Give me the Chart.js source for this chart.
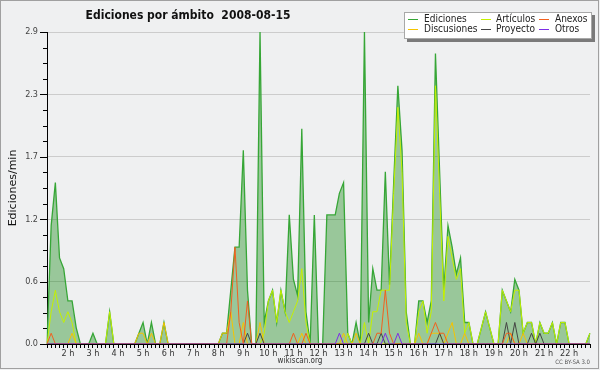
<!DOCTYPE html>
<html>
<head>
<meta charset="utf-8">
<script src="https://cdn.jsdelivr.net/npm/chart.js@4.4.1/dist/chart.umd.min.js"></script>
<style>
  html, body { margin: 0; padding: 0; background: #eff0f1; }
  #wrap { width: 600px; height: 370px; }
</style>
</head>
<body>
<div id="wrap"><canvas id="chart" width="600" height="370"></canvas></div>
<script>
const FONT = '"DejaVu Sans Condensed", "Liberation Sans", sans-serif';

const TITLE = "Ediciones por ámbito  2008-08-15";
const Y_TITLE = "Ediciones/min";
const SOURCE = "wikiscan.org";
const LICENCE = "CC BY-SA 3.0";

// one point every 10 minutes, hour labels every 6 points
const POINT_COUNT = 131;
const HOUR_LABELS = ["2 h", "3 h", "4 h", "5 h", "6 h", "7 h", "8 h", "9 h", "10 h", "11 h", "12 h",
  "13 h", "14 h", "15 h", "16 h", "17 h", "18 h", "19 h", "20 h", "21 h", "22 h"];
const FIRST_HOUR_INDEX = 5;
const POINTS_PER_HOUR = 6;

const Y_MAX = 2.9;
const Y_MAJOR = [0, 0.58, 1.16, 1.74, 2.32, 2.9];
const Y_MINOR = [0.145, 0.29, 0.435, 0.725, 0.87, 1.015, 1.305, 1.45, 1.595, 1.885, 2.03, 2.175, 2.465, 2.61, 2.755];

const EDICIONES = [
  0, 1.1, 1.5, 0.8, 0.7, 0.4, 0.4, 0.15, 0, 0,
  0, 0.1, 0, 0, 0, 0.3, 0, 0, 0, 0,
  0, 0, 0.1, 0.2, 0, 0.2, 0, 0, 0.2, 0,
  0, 0, 0, 0, 0, 0, 0, 0, 0, 0,
  0, 0, 0.1, 0.1, 0.5, 0.9, 0.9, 1.8, 0.5, 0,
  0, 2.9, 0.2, 0.4, 0.5, 0.2, 0.5, 0.3, 1.2, 0.6,
  0.45, 2.0, 0.3, 0, 1.2, 0, 0, 1.2, 1.2, 1.2,
  1.4, 1.5, 0.1, 0, 0.2, 0, 2.9, 0.2, 0.7, 0.5,
  0.5, 1.6, 0.55, 1.5, 2.4, 1.8, 0.3, 0, 0, 0.4,
  0.4, 0.2, 0.4, 2.7, 1.6, 0.5, 1.1, 0.9, 0.65, 0.8,
  0.2, 0.2, 0, 0, 0.15, 0.3, 0.15, 0, 0, 0.5,
  0.4, 0.3, 0.6, 0.5, 0.1, 0.2, 0.2, 0, 0.2, 0.1,
  0.1, 0.2, 0, 0.2, 0.2, 0, 0, 0, 0, 0,
  0.1
];
const ARTICULOS = [
  0, 0.3, 0.5, 0.3, 0.2, 0.3, 0.2, 0, 0, 0,
  0, 0, 0, 0, 0, 0.3, 0, 0, 0, 0,
  0, 0, 0, 0, 0, 0, 0, 0, 0, 0,
  0, 0, 0, 0, 0, 0, 0, 0, 0, 0,
  0, 0, 0, 0, 0, 0, 0, 0, 0, 0,
  0, 0, 0.1, 0.4, 0.5, 0.2, 0.5, 0.3, 0.2, 0.3,
  0.4, 0.7, 0.2, 0, 0, 0, 0, 0, 0, 0,
  0, 0, 0.1, 0, 0, 0, 0.2, 0, 0.3, 0.3,
  0.5, 0.5, 0.5, 1.4, 2.2, 1.6, 0.2, 0, 0, 0.3,
  0.4, 0.1, 0.3, 2.4, 1.4, 0.4, 1.0, 0.8, 0.6, 0.7,
  0.1, 0.2, 0, 0, 0.15, 0.3, 0.15, 0, 0, 0.5,
  0.4, 0.3, 0.5, 0.5, 0.1, 0.2, 0.2, 0, 0.2, 0.1,
  0.1, 0.2, 0, 0.2, 0.2, 0, 0, 0, 0, 0,
  0.1
];
const ANEXOS = [
  0, 0.1, 0, 0, 0, 0, 0, 0, 0, 0,
  0, 0, 0, 0, 0, 0, 0, 0, 0, 0,
  0, 0, 0, 0, 0, 0, 0, 0, 0, 0,
  0, 0, 0, 0, 0, 0, 0, 0, 0, 0,
  0, 0, 0, 0, 0.3, 0.9, 0.2, 0, 0.4, 0,
  0, 0, 0, 0, 0, 0, 0, 0, 0, 0.1,
  0, 0, 0.1, 0, 0, 0, 0, 0, 0, 0,
  0, 0, 0, 0, 0, 0, 0, 0, 0, 0.1,
  0.1, 0.5, 0.1, 0, 0, 0, 0, 0, 0, 0,
  0, 0, 0.1, 0.2, 0.1, 0.1, 0, 0, 0, 0,
  0, 0, 0, 0, 0, 0, 0, 0, 0, 0,
  0.1, 0.1, 0, 0, 0, 0, 0, 0, 0, 0,
  0, 0, 0, 0, 0, 0, 0, 0, 0, 0,
  0
];
const DISCUSIONES = [
  0, 0, 0, 0, 0, 0, 0.1, 0, 0, 0,
  0, 0, 0, 0, 0, 0, 0, 0, 0, 0,
  0, 0, 0.1, 0.1, 0, 0.1, 0, 0, 0.2, 0,
  0, 0, 0, 0, 0, 0, 0, 0, 0, 0,
  0, 0, 0.1, 0.1, 0.3, 0, 0, 0.2, 0, 0,
  0, 0.2, 0, 0, 0, 0, 0, 0, 0, 0,
  0, 0.1, 0, 0, 0, 0, 0, 0, 0, 0,
  0, 0.1, 0, 0, 0.1, 0, 0, 0, 0, 0,
  0, 0, 0, 0, 0, 0, 0, 0, 0, 0.1,
  0, 0, 0.1, 0.1, 0.1, 0, 0.1, 0.2, 0, 0,
  0.1, 0, 0, 0, 0, 0, 0, 0, 0, 0,
  0, 0.1, 0, 0, 0.1, 0, 0, 0, 0, 0,
  0, 0, 0, 0, 0, 0, 0, 0, 0, 0,
  0
];
const PROYECTO = [
  0, 0, 0, 0, 0, 0, 0, 0, 0, 0,
  0, 0, 0, 0, 0, 0, 0, 0, 0, 0,
  0, 0, 0, 0, 0, 0, 0, 0, 0, 0,
  0, 0, 0, 0, 0, 0, 0, 0, 0, 0,
  0, 0, 0, 0, 0, 0, 0, 0, 0.1, 0,
  0, 0.1, 0, 0, 0, 0, 0, 0, 0, 0,
  0, 0, 0, 0, 0, 0, 0, 0, 0, 0,
  0, 0, 0, 0, 0, 0, 0, 0.1, 0, 0,
  0.1, 0, 0, 0, 0, 0, 0, 0, 0, 0,
  0, 0, 0, 0, 0.1, 0, 0, 0, 0, 0,
  0, 0, 0, 0, 0, 0, 0, 0, 0, 0,
  0.2, 0, 0.2, 0, 0, 0, 0.1, 0, 0.1, 0,
  0, 0, 0, 0, 0, 0, 0, 0, 0, 0,
  0
];
const OTROS = [
  0, 0, 0, 0, 0, 0, 0, 0, 0, 0,
  0, 0, 0, 0, 0, 0, 0, 0, 0, 0,
  0, 0, 0, 0, 0, 0, 0, 0, 0, 0,
  0, 0, 0, 0, 0, 0, 0, 0, 0, 0,
  0, 0, 0, 0, 0, 0, 0, 0, 0, 0,
  0, 0, 0, 0, 0, 0, 0, 0, 0, 0,
  0, 0, 0, 0, 0, 0, 0, 0, 0, 0,
  0.1, 0, 0, 0, 0, 0, 0, 0, 0, 0,
  0, 0.1, 0, 0, 0.1, 0, 0, 0, 0, 0,
  0, 0, 0, 0, 0, 0, 0, 0, 0, 0,
  0, 0, 0, 0, 0, 0, 0, 0, 0, 0,
  0, 0, 0, 0, 0, 0, 0, 0, 0, 0,
  0, 0, 0, 0, 0, 0, 0, 0, 0, 0,
  0
];

const labels = [];
for (let i = 0; i < POINT_COUNT; i++) {
  const k = i - FIRST_HOUR_INDEX;
  labels.push(k >= 0 && k % POINTS_PER_HOUR === 0 ? HOUR_LABELS[k / POINTS_PER_HOUR] || "" : "");
}

const line = (label, data, color, order, extra) => ({
  label, data, borderColor: color, backgroundColor: color, borderWidth: 1,
  pointRadius: 0, tension: 0, fill: false, order, ...extra,
});

const datasets = [
  line("Ediciones", EDICIONES, "#36a636", 10, { fill: "origin", backgroundColor: "rgba(0,128,0,0.36)", borderWidth: 1.3 }),
  line("Artículos", ARTICULOS, "#c4f000", 8),
  line("Anexos", ANEXOS, "#f2601e", 2),
  line("Discusiones", DISCUSIONES, "#f5c400", 4),
  line("Proyecto", PROYECTO, "#444444", 3),
  line("Otros", OTROS, "#7d2ee6", 1),
];

/* ── frame, title, legend, y ticks, credits ── */
const decor = {
  id: "decor",
  beforeDraw(chart) {
    const { ctx, width, height } = chart;
    ctx.save();
    ctx.fillStyle = "#eff0f1";
    ctx.fillRect(0, 0, width, height);
    ctx.restore();
  },
  afterDraw(chart) {
    const { ctx, chartArea } = chart;
    const y = chart.scales.y;
    const left = chartArea.left;
    ctx.save();

    ctx.strokeStyle = "#000";
    ctx.lineWidth = 1;
    ctx.beginPath();
    Y_MAJOR.forEach((v) => {
      const p = Math.round(y.getPixelForValue(v)) + 0.5;
      ctx.moveTo(left - 7, p);
      ctx.lineTo(left, p);
    });
    Y_MINOR.forEach((v) => {
      const p = Math.round(y.getPixelForValue(v)) + 0.5;
      ctx.moveTo(left - 4, p);
      ctx.lineTo(left, p);
    });
    ctx.stroke();

    ctx.fillStyle = "#111";
    ctx.font = "bold 12px " + FONT;
    ctx.textAlign = "center";
    ctx.textBaseline = "alphabetic";
    ctx.fillText(TITLE, 188, 18.5);

    ctx.save();
    ctx.translate(13, (chartArea.top + chartArea.bottom) / 2);
    ctx.rotate(-Math.PI / 2);
    ctx.font = '11px "DejaVu Sans", sans-serif';
    ctx.textBaseline = "middle";
    ctx.fillStyle = "#111";
    ctx.fillText(Y_TITLE, 0, 0);
    ctx.restore();

    // legend box with shadow
    ctx.fillStyle = "#7a7a7a";
    ctx.fillRect(407, 15, 188, 27);
    ctx.fillStyle = "#ffffff";
    ctx.fillRect(404, 12, 188, 27);
    ctx.strokeStyle = "#a8a8a8";
    ctx.strokeRect(404.5, 12.5, 187, 26);
    const sampleX = [408, 481, 539];
    const textX = [424, 496, 555];
    const rowY = [19, 29];
    ctx.font = "10px " + FONT;
    ctx.textAlign = "left";
    ctx.textBaseline = "middle";
    chart.data.datasets.forEach((ds, k) => {
      const col = k % 3, row = Math.floor(k / 3);
      ctx.strokeStyle = ds.borderColor;
      ctx.beginPath();
      ctx.moveTo(sampleX[col], rowY[row] + 0.5);
      ctx.lineTo(sampleX[col] + 10, rowY[row] + 0.5);
      ctx.stroke();
      ctx.fillStyle = "#222";
      ctx.fillText(ds.label, textX[col], rowY[row]);
    });

    ctx.fillStyle = "#333";
    ctx.font = "8px " + FONT;
    ctx.textAlign = "center";
    ctx.fillText(SOURCE, 300, 361);
    ctx.fillStyle = "#555";
    ctx.font = "6px " + FONT;
    ctx.textAlign = "right";
    ctx.fillText(LICENCE, 590, 362);

    ctx.strokeStyle = "#a0a0a0";
    ctx.strokeRect(0.5, 0.5, 598, 368);
    ctx.restore();
  },
};

new Chart(document.getElementById("chart"), {
  type: "line",
  data: { labels, datasets },
  plugins: [decor],
  options: {
    responsive: false,
    animation: false,
    devicePixelRatio: 1,
    layout: { padding: { left: 0, right: 10, top: 32, bottom: 0 } },
    plugins: { legend: { display: false }, tooltip: { enabled: false } },
    scales: {
      x: {
        type: "category",
        offset: false,
        z: 1,
        grid: { display: true, drawOnChartArea: false, drawTicks: true, tickLength: 4, color: "#000", tickColor: "#000" },
        border: { display: true, color: "#000" },
        ticks: { autoSkip: false, maxRotation: 0, minRotation: 0, padding: 0, color: "#333", font: { size: 9, family: FONT } },
        afterFit: (s) => { s.height = 26; },
      },
      y: {
        min: 0,
        max: Y_MAX,
        afterBuildTicks: (s) => {
          s.ticks = [...Y_MAJOR, ...Y_MINOR].sort((a, b) => a - b).map((v) => ({ value: v }));
        },
        ticks: {
          autoSkip: false,
          padding: 9,
          color: "#444",
          font: { size: 9, family: FONT },
          callback: (v) => (Y_MAJOR.includes(v) ? v.toFixed(1) : ""),
        },
        grid: {
          drawTicks: false,
          color: (ctx) => (ctx.tick && ctx.tick.value > 0 && Y_MAJOR.includes(ctx.tick.value) ? "#cccccc" : "rgba(0,0,0,0)"),
        },
        border: { display: true, color: "#000" },
        afterFit: (s) => { s.width = 47; },
      },
    },
  },
});
</script>
</body>
</html>
